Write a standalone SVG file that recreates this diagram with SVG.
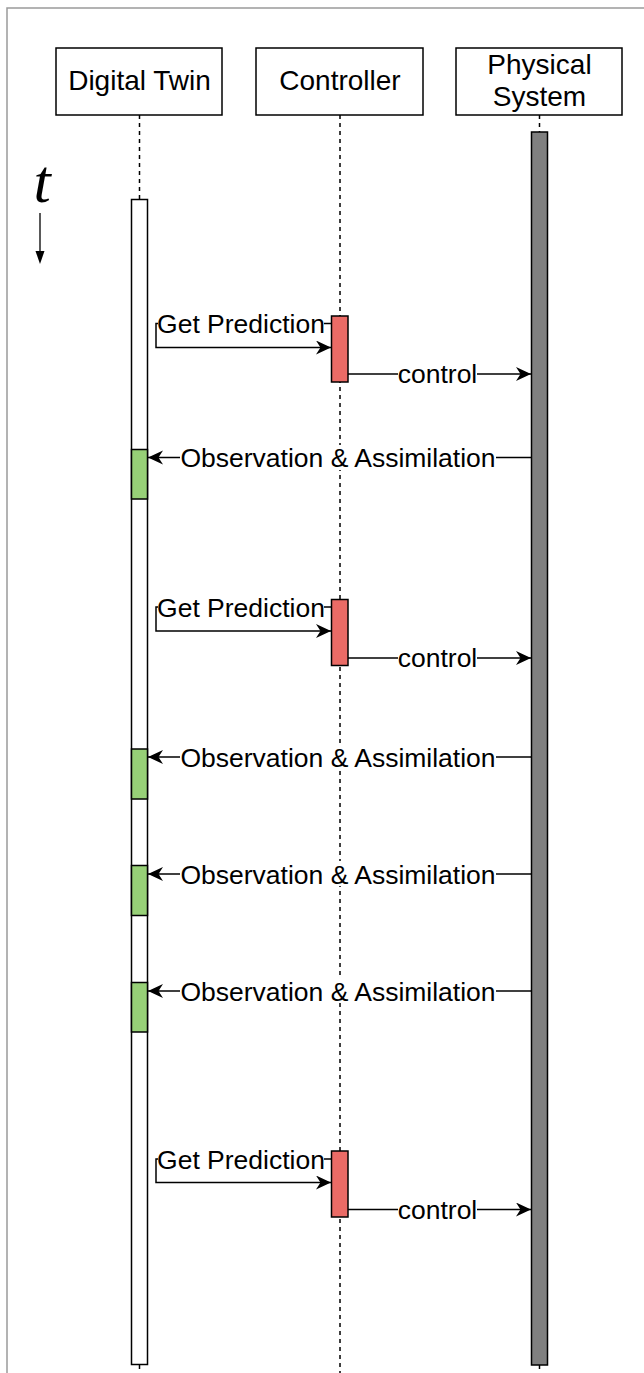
<svg xmlns="http://www.w3.org/2000/svg" width="644" height="1373" viewBox="0 0 644 1373">
  <defs>
    <style>
      .frame { fill: none; stroke: #9a9a9a; stroke-width: 1.5; }
      .head { fill: #ffffff; stroke: #000000; stroke-width: 1.5; }
      .head-text { font-family: "Liberation Sans", Arial, sans-serif; font-size: 28px; fill: #000000; text-anchor: middle; }
      .life { stroke: #000000; stroke-width: 1.5; stroke-dasharray: 4 4; fill: none; }
      .act-dt { fill: #ffffff; stroke: #000000; stroke-width: 1.5; }
      .act-ps { fill: #808080; stroke: #000000; stroke-width: 1.5; }
      .act-ctl { fill: #ea6b66; stroke: #000000; stroke-width: 1.5; }
      .act-obs { fill: #97d077; stroke: #000000; stroke-width: 1.5; }
      .arrow { fill: none; stroke: #000000; stroke-width: 1.5; marker-end: url(#head); }
      .label { font-family: "Liberation Sans", Arial, sans-serif; font-size: 26.5px; fill: #000000; text-anchor: middle; }
      .label-bg { fill: #ffffff; }
    </style>
    <marker id="head" markerUnits="userSpaceOnUse" markerWidth="18" markerHeight="16" refX="15" refY="7" orient="auto">
      <path d="M0,0 L15,7 L0,14 L4.5,7 Z" fill="#000000"/>
    </marker>
  </defs>

  <!-- outer frame -->
  <rect class="frame" x="7" y="8" width="700" height="1420"/>

  <!-- time axis -->
  <g id="time-axis">
    <text x="42" y="202" font-family="'Liberation Serif', 'Times New Roman', serif" font-style="italic" font-size="62" text-anchor="middle">t</text>
    <line x1="40" y1="213" x2="40" y2="252" stroke="#000000" stroke-width="1.3"/>
    <path d="M35.5,251 L44.5,251 L40,264 Z" fill="#000000"/>
  </g>

  <!-- lifelines -->
  <g id="lifelines">
    <line class="life" x1="139.5" y1="115" x2="139.5" y2="199"/>
    <line class="life" x1="139.5" y1="1365" x2="139.5" y2="1373"/>
    <line class="life" x1="340" y1="115" x2="340" y2="1373"/>
    <line class="life" x1="539.5" y1="115" x2="539.5" y2="132"/>
    <line class="life" x1="539.5" y1="1365" x2="539.5" y2="1373"/>
  </g>

  <g id="digital-twin">
    <rect class="head" x="56" y="48" width="166" height="67"/>
    <text class="head-text" x="139.5" y="90">Digital Twin</text>
    <rect class="act-dt" x="131.5" y="199.5" width="16" height="1165"/>
  </g>

  <g id="controller">
    <rect class="head" x="256" y="48" width="167" height="67"/>
    <text class="head-text" x="340" y="90">Controller</text>
  </g>

  <g id="physical-system">
    <rect class="head" x="456" y="48" width="166" height="67"/>
    <text class="head-text" x="539.5" y="74">Physical</text>
    <text class="head-text" x="539.5" y="106">System</text>
    <rect class="act-ps" x="531.5" y="132" width="16" height="1233"/>
  </g>

  <!-- assimilation activations on the digital twin -->
  <g id="assimilation-blocks">
    <rect class="act-obs" x="131.5" y="449.5" width="16" height="49.5"/>
    <rect class="act-obs" x="131.5" y="749" width="16" height="50"/>
    <rect class="act-obs" x="131.5" y="865.5" width="16" height="50"/>
    <rect class="act-obs" x="131.5" y="982.5" width="16" height="49.5"/>
  </g>

  <!-- controller activations -->
  <g id="control-blocks">
    <rect class="act-ctl" x="331.5" y="316" width="16.5" height="66"/>
    <rect class="act-ctl" x="331.5" y="599.5" width="16.5" height="66"/>
    <rect class="act-ctl" x="331.5" y="1151" width="16.5" height="66"/>
  </g>

  <!-- messages -->
  <g id="connectors">
    <!-- cycle 1 -->
    <path class="arrow" d="M331,323.5 H156 V347.5 H331"/>
    <rect class="label-bg" x="158" y="312" width="166" height="24"/>
    <text class="label" x="241" y="333">Get Prediction</text>
    <line class="arrow" x1="348" y1="374" x2="531" y2="374"/>
    <rect class="label-bg" x="398" y="362" width="79" height="24"/>
    <text class="label" x="437.5" y="383">control</text>

    <line class="arrow" x1="531" y1="457.5" x2="148" y2="457.5"/>
    <rect class="label-bg" x="180" y="445" width="316" height="25"/>
    <text class="label" x="338" y="467">Observation &amp; Assimilation</text>

    <!-- cycle 2 -->
    <path class="arrow" d="M331,607 H156 V631 H331"/>
    <rect class="label-bg" x="158" y="595" width="166" height="24"/>
    <text class="label" x="241" y="616.5">Get Prediction</text>
    <line class="arrow" x1="348" y1="658" x2="531" y2="658"/>
    <rect class="label-bg" x="398" y="646" width="79" height="24"/>
    <text class="label" x="437.5" y="667">control</text>

    <line class="arrow" x1="531" y1="757" x2="148" y2="757"/>
    <rect class="label-bg" x="180" y="744" width="316" height="25"/>
    <text class="label" x="338" y="766.5">Observation &amp; Assimilation</text>

    <line class="arrow" x1="531" y1="874" x2="148" y2="874"/>
    <rect class="label-bg" x="180" y="861" width="316" height="25"/>
    <text class="label" x="338" y="883.5">Observation &amp; Assimilation</text>

    <line class="arrow" x1="531" y1="991" x2="148" y2="991"/>
    <rect class="label-bg" x="180" y="978" width="316" height="25"/>
    <text class="label" x="338" y="1000.5">Observation &amp; Assimilation</text>

    <!-- cycle 3 -->
    <path class="arrow" d="M331,1159 H156 V1182.5 H331"/>
    <rect class="label-bg" x="158" y="1147" width="166" height="24"/>
    <text class="label" x="241" y="1168.5">Get Prediction</text>
    <line class="arrow" x1="348" y1="1209.5" x2="531" y2="1209.5"/>
    <rect class="label-bg" x="398" y="1197" width="79" height="24"/>
    <text class="label" x="437.5" y="1218.5">control</text>
  </g>
</svg>
